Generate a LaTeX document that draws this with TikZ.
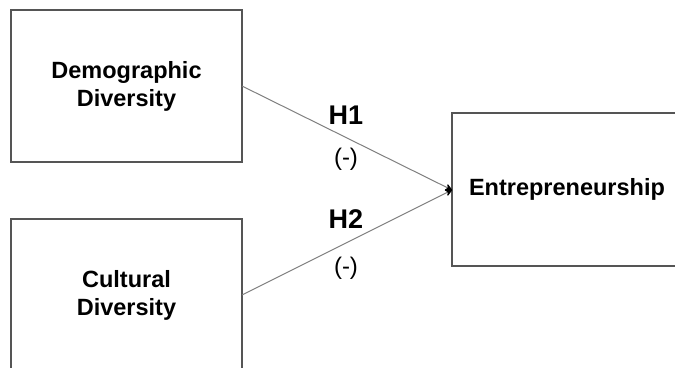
\documentclass[tikz,border=0pt]{standalone}
\usepackage{fontspec}
\setmainfont{Liberation Sans}
\usetikzlibrary{arrows.meta}
\definecolor{boxline}{HTML}{555555}
\definecolor{conn}{HTML}{808080}
\begin{document}
\begin{tikzpicture}[x=1pt,y=-1pt,
  varbox/.style={draw=boxline,line width=1.6pt,fill=white,minimum width=231pt,minimum height=152pt,align=center,inner sep=0pt,font=\fontsize{23.5}{28}\selectfont\bfseries},
  link/.style={draw=conn,line width=1pt,-{Stealth[length=8pt,width=8pt,black,round]}},
  hyp/.style={font=\fontsize{27}{30}\selectfont\bfseries,inner sep=0pt},
  sign/.style={font=\fontsize{24}{28}\selectfont,inner sep=0pt}]
\useasboundingbox (0,0) rectangle (675,367);
\clip (0,0) rectangle (675,367);
\fill[white] (0,0) rectangle (675,367);
\node[varbox] (demo) at (126.5,86) {Demographic\\Diversity};
\node[varbox] (cult) at (126.5,295) {Cultural\\Diversity};
\node[varbox,minimum width=230pt,minimum height=153pt] (entre) at (567,189.5) {Entrepreneurship};
\coordinate (s1) at (242,86);
\coordinate (s2) at (242,295);
\coordinate (t) at (452,190);
\draw[link] (s1) -- (t);
\draw[link] (s2) -- (t);
\node[hyp] (h1) at (346,115) {H1};
\node[sign] (m1) at (346,159) {(-)};
\node[hyp] (h2) at (346,219) {H2};
\node[sign] (m2) at (346,268) {(-)};
\end{tikzpicture}
\end{document}
